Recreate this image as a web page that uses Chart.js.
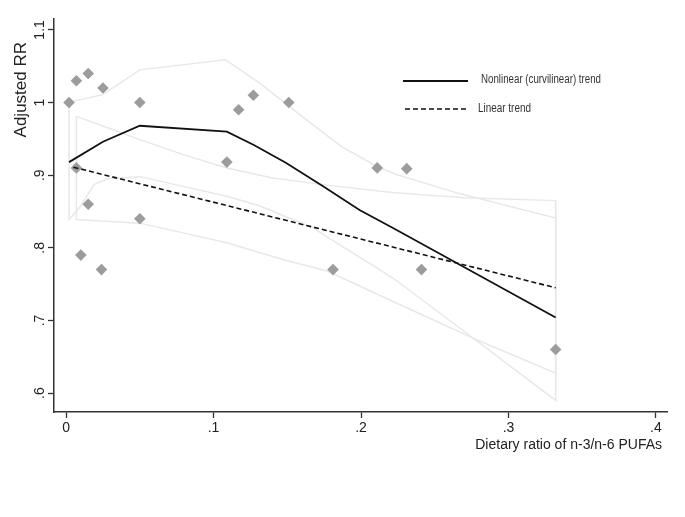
<!DOCTYPE html>
<html>
<head>
<meta charset="utf-8">
<script src="https://cdn.jsdelivr.net/npm/chart.js@4/dist/chart.umd.min.js"></script>
<style>
    body { margin: 0; background: #fff; }
    #wrap { width: 685px; height: 517px; }
</style>
</head>
<body>
<div id="wrap"><canvas id="myChart" width="685" height="517"></canvas></div>
<script>
// observed studies (diamonds)
var studyRatio = [0.002, 0.007, 0.015, 0.025, 0.050, 0.007, 0.015, 0.050, 0.010, 0.024,
                  0.109, 0.117, 0.127, 0.151, 0.181, 0.211, 0.231, 0.241, 0.332];
var studyRR    = [1.000, 1.030, 1.040, 1.020, 1.000, 0.910, 0.860, 0.840, 0.790, 0.770,
                  0.918, 0.990, 1.010, 1.000, 0.770, 0.910, 0.909, 0.770, 0.660];

// nonlinear (curvilinear) trend
var curveX = [0.002, 0.025, 0.050, 0.109, 0.127, 0.149, 0.174, 0.199, 0.222, 0.332];
var curveY = [0.918, 0.946, 0.968, 0.960, 0.942, 0.917, 0.885, 0.852, 0.827, 0.704];

// its confidence band
var curveUpX = [0.002, 0.010, 0.025, 0.050, 0.108, 0.131, 0.167, 0.187, 0.211, 0.224, 0.266, 0.332];
var curveUpY = [1.001, 1.004, 1.011, 1.045, 1.059, 1.027, 0.970, 0.939, 0.912, 0.901, 0.875, 0.841];
var curveLoX = [0.002, 0.010, 0.019, 0.028, 0.050, 0.109, 0.131, 0.150, 0.167, 0.181, 0.211, 0.224, 0.266, 0.332];
var curveLoY = [0.839, 0.858, 0.887, 0.895, 0.898, 0.871, 0.858, 0.842, 0.828, 0.810, 0.772, 0.755, 0.691, 0.590];

// linear trend
var lineX = [0.005, 0.332];
var lineY = [0.911, 0.745];

// its confidence band
var lineUpX = [0.007, 0.030, 0.050, 0.080, 0.109, 0.140, 0.174, 0.221, 0.270, 0.332];
var lineUpY = [0.981, 0.964, 0.949, 0.928, 0.910, 0.896, 0.887, 0.876, 0.869, 0.865];
var lineLoX = [0.007, 0.050, 0.109, 0.147, 0.177, 0.224, 0.280, 0.332];
var lineLoY = [0.839, 0.834, 0.807, 0.784, 0.768, 0.724, 0.672, 0.6275];

var xTicks = [0, 0.1, 0.2, 0.3, 0.4];
var xTickLabels = ["0", ".1", ".2", ".3", ".4"];
var yTicks = [0.6, 0.7, 0.8, 0.9, 1.0, 1.1];
var yTickLabels = [".6", ".7", ".8", ".9", "1", "1.1"];

var legendLabels = ["Nonlinear (curvilinear) trend", "Linear trend"];
var xTitle = "Dietary ratio of n-3/n-6 PUFAs";
var yTitle = "Adjusted RR";

function pairs(xs, ys)
{
    var out = [];
    for (var i = 0; i < xs.length; i++) {
        out.push({ x: xs[i], y: ys[i] });
    }
    return out;
}

// upper edge left->right, lower edge right->left, then close
function band(upX, upY, loX, loY)
{
    var pts = pairs(upX, upY);
    for (var i = loX.length - 1; i >= 0; i--) {
        pts.push({ x: loX[i], y: loY[i] });
    }
    pts.push({ x: upX[0], y: upY[0] });
    return pts;
}

var bandColor = "#e8e8e8";
var textColor = "#222";

var overlay = {
    id: "overlay",
    afterDraw: function (chart) {
        var ctx = chart.ctx;
        ctx.save();

        // legend inside the plot
        ctx.strokeStyle = "#111";
        ctx.lineWidth = 1.8;
        ctx.beginPath();
        ctx.moveTo(403, 81);
        ctx.lineTo(468, 81);
        ctx.stroke();
        ctx.setLineDash([5, 3]);
        ctx.lineWidth = 1.6;
        ctx.beginPath();
        ctx.moveTo(405, 109);
        ctx.lineTo(469, 109);
        ctx.stroke();
        ctx.setLineDash([]);

        ctx.fillStyle = "#333";
        ctx.font = '12px "Liberation Sans", Arial, sans-serif';
        ctx.textBaseline = "middle";
        ctx.textAlign = "left";
        ctx.fillText(legendLabels[0], 481, 80, 120);
        ctx.fillText(legendLabels[1], 478, 109, 53);

        // axis titles
        ctx.fillStyle = textColor;
        ctx.font = '14px "Liberation Sans", Arial, sans-serif';
        ctx.textAlign = "right";
        ctx.fillText(xTitle, 662, 445);

        ctx.translate(21, 42);
        ctx.rotate(-Math.PI / 2);
        ctx.font = '17px "Liberation Sans", Arial, sans-serif';
        ctx.textAlign = "right";
        ctx.fillText(yTitle, 0, 0);

        ctx.restore();
    }
};

var myChart = new Chart(document.getElementById("myChart").getContext("2d"), {
    type: "scatter",
    data: {
        datasets: [
            {
                label: legendLabels[0],
                data: pairs(curveX, curveY),
                showLine: true,
                borderColor: "#111",
                borderWidth: 1.8,
                pointRadius: 0,
                tension: 0,
                order: 0
            },
            {
                label: legendLabels[1],
                data: pairs(lineX, lineY),
                showLine: true,
                borderColor: "#111",
                borderWidth: 1.6,
                borderDash: [5, 3],
                pointRadius: 0,
                order: 1
            },
            {
                label: "Studies",
                data: pairs(studyRatio, studyRR),
                pointStyle: "rectRot",
                pointRadius: 5.8,
                backgroundColor: "#9c9c9c",
                borderWidth: 0,
                order: 2
            },
            {
                label: "Nonlinear CI",
                data: band(curveUpX, curveUpY, curveLoX, curveLoY),
                showLine: true,
                borderColor: bandColor,
                borderWidth: 1.5,
                pointRadius: 0,
                tension: 0,
                order: 3
            },
            {
                label: "Linear CI",
                data: band(lineUpX, lineUpY, lineLoX, lineLoY),
                showLine: true,
                borderColor: bandColor,
                borderWidth: 1.5,
                pointRadius: 0,
                tension: 0,
                order: 4
            }
        ]
    },
    options: {
        responsive: false,
        animation: false,
        layout: { padding: { left: 0, right: 18, top: 19, bottom: 65 } },
        plugins: {
            legend: { display: false },
            tooltip: { enabled: false }
        },
        scales: {
            x: {
                type: "linear",
                min: -0.0082,
                max: 0.4075,
                afterBuildTicks: function (s) {
                    s.ticks = xTicks.map(function (v) { return { value: v }; });
                },
                afterFit: function (s) { s.height = 40; },
                ticks: {
                    autoSkip: false,
                    maxRotation: 0,
                    padding: 2,
                    color: textColor,
                    font: { family: '"Liberation Sans", Arial, sans-serif', size: 14 },
                    callback: function (v, i) { return xTickLabels[i]; }
                },
                grid: {
                    drawOnChartArea: false,
                    drawTicks: true,
                    tickLength: 6,
                    tickColor: "#333",
                    tickWidth: 1.3
                },
                border: { color: "#333", width: 1.5 }
            },
            y: {
                type: "linear",
                min: 0.574,
                max: 1.115,
                afterBuildTicks: function (s) {
                    s.ticks = yTicks.map(function (v) { return { value: v }; });
                },
                afterFit: function (s) { s.width = 54; },
                ticks: {
                    autoSkip: false,
                    minRotation: 90,
                    maxRotation: 90,
                    crossAlign: "center",
                    padding: -2,
                    color: textColor,
                    font: { family: '"Liberation Sans", Arial, sans-serif', size: 14 },
                    callback: function (v, i) { return yTickLabels[i]; }
                },
                grid: {
                    drawOnChartArea: false,
                    drawTicks: true,
                    tickLength: 6,
                    tickColor: "#333",
                    tickWidth: 1.3
                },
                border: { color: "#333", width: 1.5 }
            }
        }
    },
    plugins: [overlay]
});
</script>
</body>
</html>
